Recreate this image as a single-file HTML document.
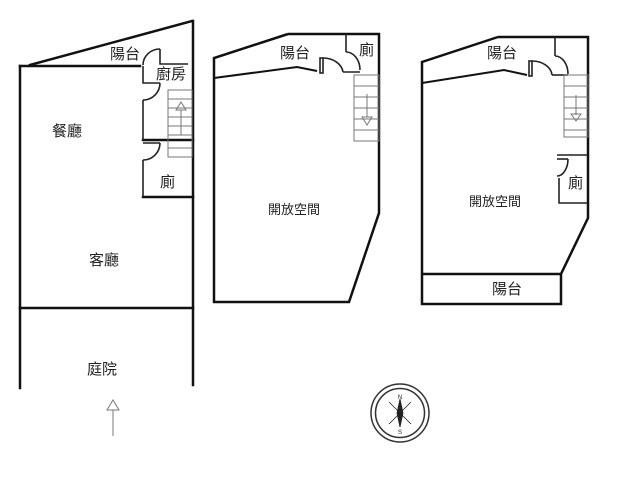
<!DOCTYPE html>
<html><head><meta charset="utf-8"><style>
html,body{margin:0;padding:0;background:#fff;width:640px;height:480px;overflow:hidden}
svg text{font-family:"Liberation Sans","Noto Sans CJK TC",sans-serif;fill:#222}
</style></head><body>
<svg width="640" height="480" viewBox="0 0 640 480" xmlns="http://www.w3.org/2000/svg">
<g fill="none" stroke="#111" stroke-width="2.5" stroke-linecap="square">
<line x1="20" y1="66" x2="20" y2="388"/>
<line x1="193" y1="21" x2="193" y2="385"/>
<line x1="30" y1="65" x2="192" y2="21"/>
<line x1="20" y1="66" x2="140" y2="66"/>
<line x1="20" y1="308" x2="193" y2="308"/>
<line x1="143" y1="140" x2="193" y2="140"/>
<line x1="143" y1="197" x2="193" y2="197"/>
</g>
<g fill="none" stroke="#222" stroke-width="1.6">
<polyline points="143,66 143,83 160,83"/>
<path d="M160,83 A17,17 0 0 1 143,100"/>
<line x1="143" y1="100" x2="143" y2="140"/>
<path d="M143,65 A17,16 0 0 1 160,49"/>
<polyline points="160,49 160,64 188,64"/>
<path d="M160,143 A17,17 0 0 1 143,160"/>
<line x1="143" y1="143" x2="160" y2="143"/>
<line x1="143" y1="160" x2="143" y2="197"/>
</g>
<g fill="none" stroke="#777" stroke-width="1">
<rect x="168" y="90" width="24" height="67"/>
<line x1="168" y1="99" x2="192" y2="99"/><line x1="168" y1="108" x2="192" y2="108"/>
<line x1="168" y1="117" x2="192" y2="117"/><line x1="168" y1="126" x2="192" y2="126"/>
<line x1="168" y1="135" x2="192" y2="135"/><line x1="168" y1="148" x2="192" y2="148"/>
<line x1="181" y1="110" x2="181" y2="135"/>
<polygon points="181,102 176,110 186,110"/>
<line x1="113" y1="410" x2="113" y2="436"/>
<polygon points="113,400 107,410 119,410"/>
</g>
<g fill="none" stroke="#111" stroke-width="2.5">
<polyline points="288,34 214,58 214,302 349,302 379,213 379,34 288,34"/>
<polyline points="214,78 297,67 317,71" stroke-width="2"/>
</g>
<g fill="none" stroke="#222" stroke-width="1.6">
<rect x="320" y="58" width="3" height="15"/>
<path d="M323,58 A20,16 0 0 1 343,72"/>
<line x1="343" y1="72" x2="360" y2="72"/>
<line x1="346" y1="34" x2="346" y2="52"/>
<path d="M346,52 A14,18 0 0 1 360,70"/>
</g>
<g fill="none" stroke="#777" stroke-width="1">
<rect x="354" y="75" width="25" height="66"/>
<line x1="354" y1="86" x2="379" y2="86"/><line x1="354" y1="97" x2="379" y2="97"/>
<line x1="354" y1="108" x2="379" y2="108"/><line x1="354" y1="119" x2="379" y2="119"/>
<line x1="354" y1="130" x2="379" y2="130"/>
<line x1="367" y1="94" x2="367" y2="117"/>
<polygon points="367,125 362,117 372,117"/>
</g>
<g fill="none" stroke="#111" stroke-width="2.5">
<polyline points="498,37 422,62 422,304 561,304 561,274 588,218 588,37 498,37"/>
<line x1="422" y1="274" x2="562" y2="274"/>
<polyline points="422,83 504,70 527,75" stroke-width="2"/>
</g>
<g fill="none" stroke="#222" stroke-width="1.6">
<rect x="529" y="61" width="3" height="15"/>
<path d="M532,61 A20,15 0 0 1 552,75"/>
<line x1="552" y1="75" x2="568" y2="75"/>
<line x1="555" y1="37" x2="555" y2="56"/>
<path d="M555,56 A13,18 0 0 1 568,74"/>
<line x1="557" y1="155" x2="588" y2="155"/>
<line x1="557" y1="159" x2="568" y2="159"/>
<path d="M568,159 A11,17 0 0 1 557,176"/>
<polyline points="559,178 559,203 588,203"/>
</g>
<g fill="none" stroke="#777" stroke-width="1">
<rect x="564" y="75" width="24" height="62"/>
<line x1="564" y1="86" x2="588" y2="86"/><line x1="564" y1="97" x2="588" y2="97"/>
<line x1="564" y1="108" x2="588" y2="108"/><line x1="564" y1="119" x2="588" y2="119"/>
<line x1="564" y1="130" x2="588" y2="130"/>
<line x1="576" y1="95" x2="576" y2="115"/>
<polygon points="576,121 571,114 581,114"/>
</g>
<g fill="none" stroke="#333" stroke-width="1.5">
<circle cx="400" cy="413" r="29"/>
<circle cx="400" cy="413" r="24.5"/>
</g>
<g fill="#222" stroke="#222" stroke-width="0.8">
<polygon points="400,399 403,413 400,427 397,413"/>
<line x1="389" y1="402" x2="411" y2="424"/>
<line x1="411" y1="402" x2="389" y2="424"/>
</g>
<text x="400" y="399" font-size="6" text-anchor="middle">N</text>
<text x="400" y="434" font-size="6" text-anchor="middle">S</text>
<g font-size="15">
<text x="110" y="59">陽台</text>
<text x="156" y="79">廚房</text>
<text x="52" y="136">餐廳</text>
<text x="160" y="187">廁</text>
<text x="89" y="265">客廳</text>
<text x="87" y="374">庭院</text>
<text x="280" y="58">陽台</text>
<text x="359" y="55">廁</text>
<text x="487" y="58">陽台</text>
<text x="568" y="188">廁</text>
<text x="492" y="294">陽台</text>
</g>
<g font-size="13">
<text x="268" y="214">開放空間</text>
<text x="469" y="206">開放空間</text>
</g>
</svg>
</body></html>
